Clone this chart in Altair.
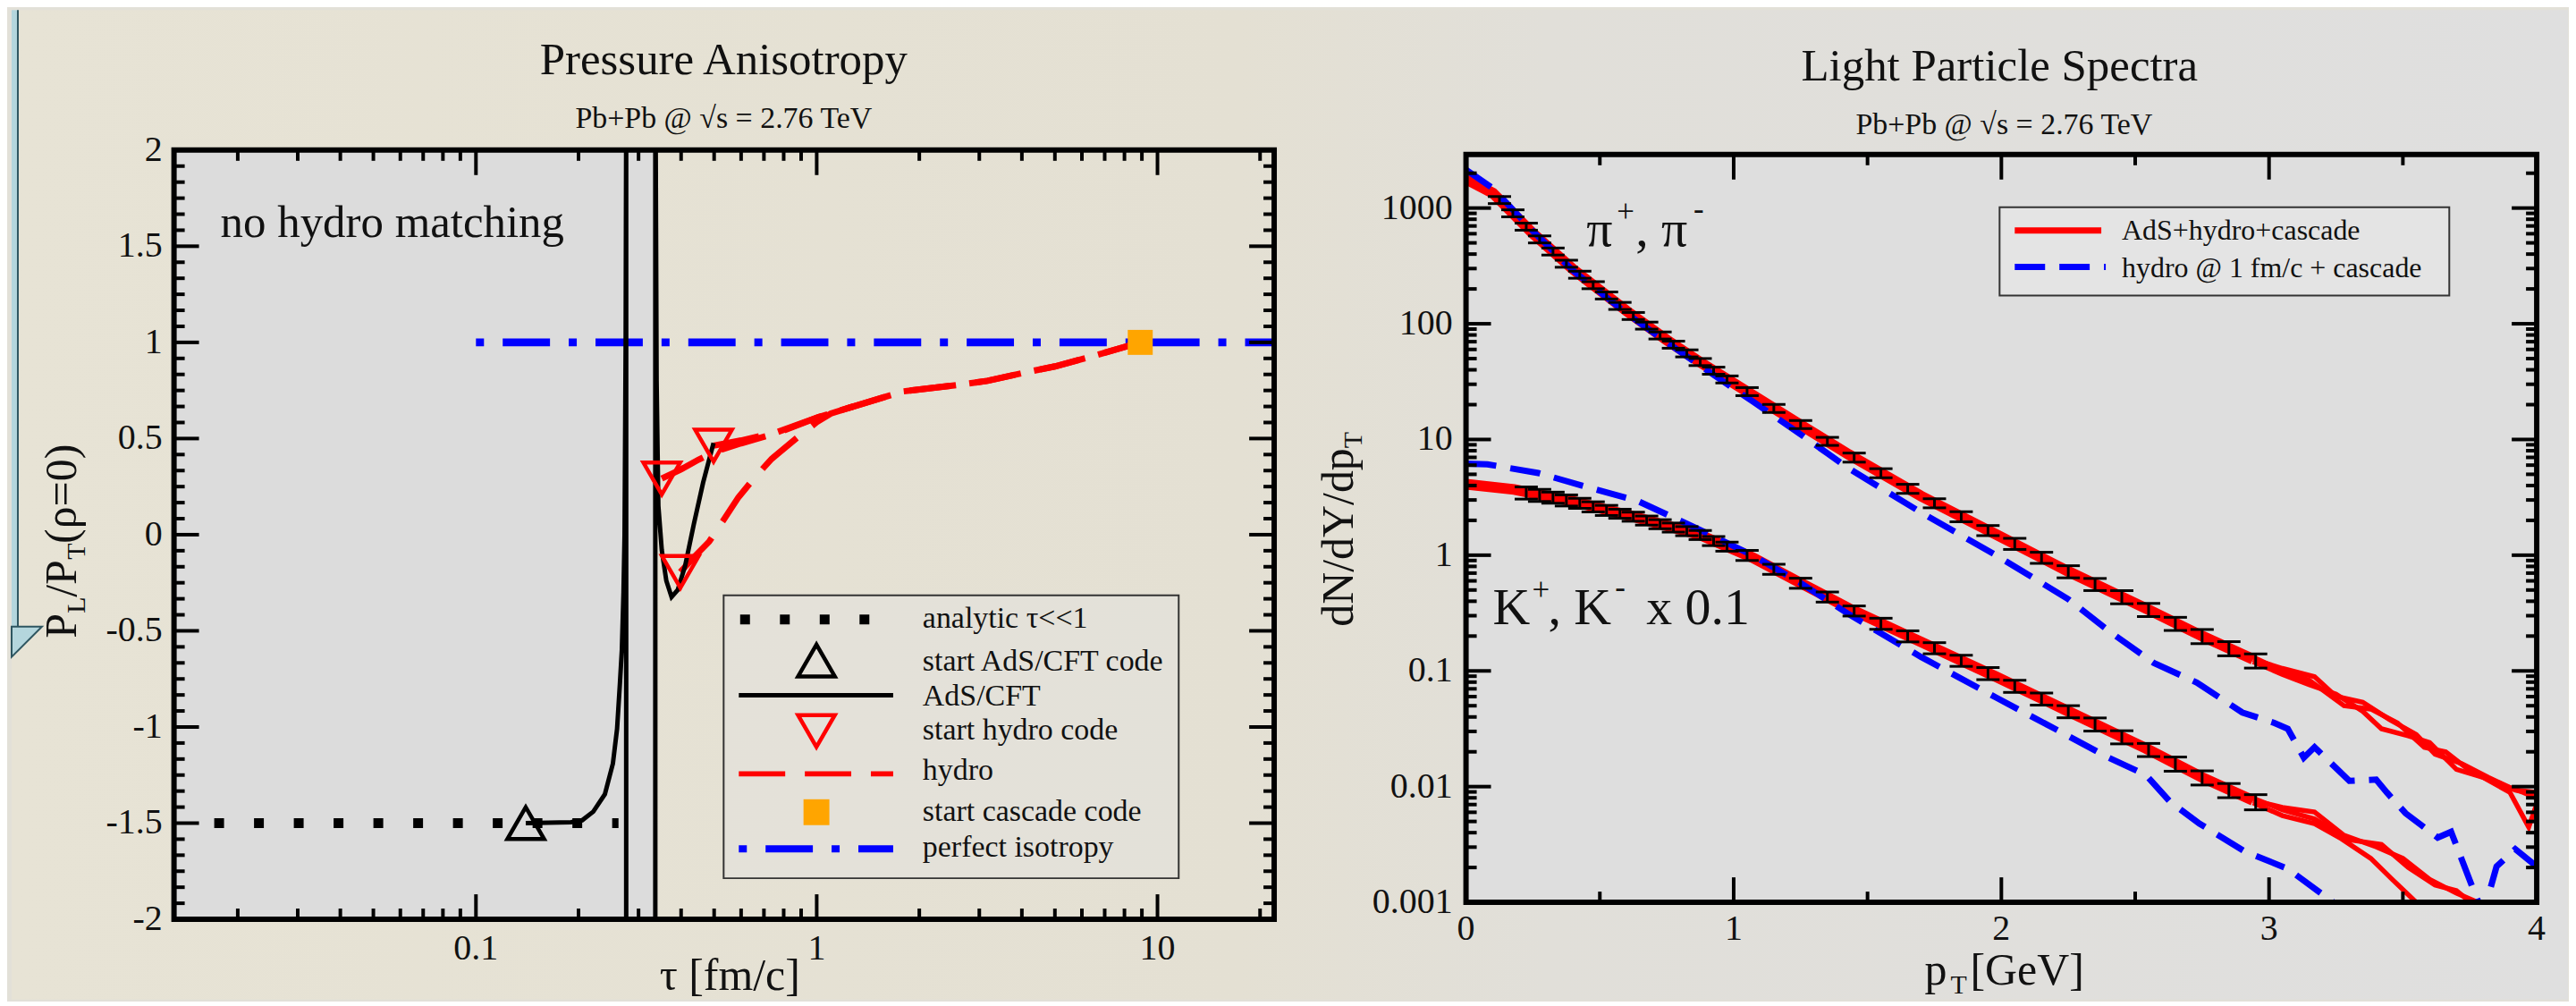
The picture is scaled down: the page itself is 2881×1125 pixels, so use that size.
import altair as alt
import pandas as pd

FONT = "Liberation Serif"
INK = "#111111"

# ================= Left panel: Pressure Anisotropy =================
analytic_tau = [0.01706, 0.262]
analytic_val = [-1.5, -1.5]
isotropy_tau = [0.1, 22.0]
isotropy_val = [1.0, 1.0]
ads_tau = [0.14, 0.19, 0.205, 0.221, 0.239, 0.2523, 0.2595, 0.2644, 0.268, 0.271, 0.273, 0.275,
           0.276, 0.276, 0.336, 0.336, 0.337, 0.339, 0.343, 0.351, 0.362, 0.375, 0.391, 0.411,
           0.436, 0.464, 0.498]
ads_val = [-1.5, -1.495, -1.485, -1.44, -1.35, -1.19, -1.01, -0.78, -0.6, -0.3, 0.0, 1.0,
           2.2, -2.2, -2.2, 2.2, 2.0, 0.8, 0.15, -0.08, -0.24, -0.324, -0.287, -0.162,
           0.055, 0.27, 0.477]
hydro_a_tau = [0.351, 0.40, 0.45, 0.50, 0.60, 0.77, 1.01, 1.3, 1.79, 2.5, 3.17, 4.0, 5.0, 6.5, 8.9]
hydro_a_val = [0.292, 0.34, 0.39, 0.43, 0.475, 0.53, 0.611, 0.67, 0.745, 0.775, 0.80, 0.84, 0.875, 0.93, 1.0]
hydro_b_tau = [0.498, 0.60, 0.77, 1.01, 1.3, 1.79, 2.5, 3.17, 4.0, 5.0, 6.5, 8.9]
hydro_b_val = [0.463, 0.49, 0.535, 0.611, 0.67, 0.745, 0.775, 0.80, 0.84, 0.875, 0.93, 1.0]
hydro_c_tau = [0.398, 0.44, 0.483, 0.53, 0.589, 0.66, 0.737, 0.884, 1.0, 1.1, 1.3]
hydro_c_val = [-0.194, -0.11, -0.037, 0.07, 0.194, 0.30, 0.394, 0.51, 0.585, 0.63, 0.67]
ads_start_tau = [0.14]
ads_start_val = [-1.5]
hydro_start_tau = [0.351, 0.398, 0.498]
hydro_start_val = [0.292, -0.194, 0.463]
cascade_tau = [8.9]
cascade_val = [1.0]
shade_tau = [0.013, 0.336]

left_legend = ["analytic \u03c4<<1", "start AdS/CFT code", "AdS/CFT", "start hydro code",
               "hydro", "start cascade code", "perfect isotropy"]

# ================= Right panel: Light Particle Spectra =================
pi_red_pt = [0.0, 0.1, 0.25, 0.4, 0.6, 0.75, 0.873, 1.07, 1.24, 1.43, 1.7, 1.98, 2.25, 2.54, 2.75, 2.94]
pi_red_val = [1778, 1349, 603, 295, 129, 72.4, 46.8, 24.3, 13.8, 7.41, 3.24, 1.51, 0.724, 0.347, 0.2, 0.126]
pi_tail_a_pt = [2.94, 3.05, 3.17, 3.25, 3.35, 3.45, 3.55, 3.62, 3.72, 3.82, 3.92, 4.0]
pi_tail_a_val = [0.126, 0.105, 0.0891, 0.0603, 0.0537, 0.038, 0.0282, 0.0191, 0.0158, 0.012, 0.00933, 0.00891]
pi_tail_b_pt = [2.94, 3.05, 3.15, 3.25, 3.35, 3.42, 3.52, 3.6, 3.7, 3.8, 3.9, 3.97, 4.0]
pi_tail_b_val = [0.12, 0.0933, 0.0759, 0.0631, 0.0447, 0.0316, 0.0275, 0.024, 0.0141, 0.012, 0.00891, 0.00447, 0.00708]
pi_tail_c_pt = [2.94, 3.05, 3.15, 3.28, 3.38, 3.48, 3.58, 3.66, 3.76, 3.86, 3.95, 4.0]
pi_tail_c_val = [0.132, 0.1, 0.0832, 0.0501, 0.0468, 0.0355, 0.0219, 0.02, 0.0132, 0.0105, 0.00891, 0.00794]

k_red_pt = [0.0, 0.18, 0.41, 0.63, 0.873, 1.07, 1.25, 1.43, 1.7, 1.98, 2.25, 2.54, 2.75, 2.94]
k_red_val = [4.1, 3.7, 2.88, 2.14, 1.50, 0.955, 0.575, 0.347, 0.178, 0.0891, 0.0447, 0.0214, 0.012, 0.00759]
k_tail_a_pt = [2.94, 3.05, 3.17, 3.28, 3.4, 3.5, 3.6, 3.7, 3.8, 3.9]
k_tail_a_val = [0.00759, 0.00661, 0.00603, 0.0038, 0.00302, 0.0024, 0.00158, 0.0012, 0.000955, 0.000794]
k_tail_b_pt = [2.94, 3.05, 3.17, 3.27, 3.38, 3.46, 3.54, 3.6]
k_tail_b_val = [0.00724, 0.00562, 0.00479, 0.00355, 0.0024, 0.00158, 0.00105, 0.000794]
k_tail_c_pt = [2.94, 3.05, 3.17, 3.3, 3.42, 3.52, 3.62, 3.7, 3.78, 3.86]
k_tail_c_val = [0.00794, 0.00631, 0.00525, 0.00347, 0.00316, 0.002, 0.00141, 0.00126, 0.000891, 0.000708]

pi_blue_pt = [0.0, 0.1, 0.25, 0.4, 0.6, 0.75, 0.873, 1.07, 1.24, 1.43, 1.7, 1.98, 2.25, 2.41, 2.57,
              2.73, 2.9, 3.02, 3.07, 3.13, 3.17, 3.3, 3.4, 3.44, 3.51, 3.63, 3.68, 3.76, 3.8, 3.85, 3.92, 4.0]
pi_blue_val = [2140, 1480, 631, 288, 123, 69.2, 43.7, 21.4, 11.5, 5.62, 2.34, 1.0, 0.417, 0.214, 0.117,
               0.0794, 0.0437, 0.0355, 0.0316, 0.0178, 0.0219, 0.0112, 0.0115, 0.00891, 0.00589, 0.00363,
               0.00407, 0.00135, 0.000794, 0.00204, 0.00288, 0.00204]
k_blue_pt = [0.0, 0.08, 0.27, 0.45, 0.64, 0.873, 1.07, 1.25, 1.43, 1.7, 1.98, 2.2, 2.4, 2.54, 2.63,
             2.74, 2.91, 3.07, 3.24, 3.3]
k_blue_val = [6.17, 6.1, 5.13, 3.89, 2.95, 1.66, 1.0, 0.575, 0.309, 0.132, 0.0589, 0.0316, 0.0178,
              0.0126, 0.00741, 0.00479, 0.00275, 0.00195, 0.001, 0.000794]

pi_data_pt = [0.125, 0.175, 0.225, 0.275, 0.325, 0.375, 0.425, 0.475, 0.525, 0.575, 0.625, 0.675,
              0.725, 0.775, 0.825, 0.875, 0.925, 0.975, 1.05, 1.15, 1.25, 1.35, 1.45, 1.55, 1.65,
              1.75, 1.85, 1.95, 2.05, 2.15, 2.25, 2.35, 2.45, 2.55, 2.65, 2.75, 2.85, 2.95]
pi_data_val = [1175, 902, 692, 537, 422, 331, 266, 216, 176, 143, 117, 96.6, 79.4, 66.1, 55.6, 46.8,
               39.4, 33.1, 26.0, 18.6, 13.5, 9.66, 7.0, 5.13, 3.76, 2.82, 2.16, 1.64, 1.26, 0.955,
               0.724, 0.562, 0.437, 0.339, 0.257, 0.2, 0.157, 0.123]
pi_data_err = [0.07, 0.07, 0.07, 0.07, 0.07, 0.07, 0.07, 0.07, 0.07, 0.07, 0.07, 0.07, 0.07, 0.07,
               0.07, 0.07, 0.07, 0.07, 0.08, 0.08, 0.08, 0.08, 0.09, 0.09, 0.09, 0.09, 0.10, 0.10,
               0.11, 0.11, 0.12, 0.12, 0.13, 0.13, 0.13, 0.14, 0.14, 0.14]
k_data_pt = [0.225, 0.275, 0.325, 0.375, 0.425, 0.475, 0.525, 0.575, 0.625, 0.675, 0.725, 0.775,
             0.825, 0.875, 0.925, 0.975, 1.05, 1.15, 1.25, 1.35, 1.45, 1.55, 1.65, 1.75, 1.85,
             1.95, 2.05, 2.15, 2.25, 2.35, 2.45, 2.55, 2.65, 2.75, 2.85, 2.95]
k_data_val = [3.47, 3.31, 3.16, 2.99, 2.82, 2.63, 2.45, 2.29, 2.16, 2.0, 1.86, 1.74, 1.62, 1.50,
              1.33, 1.19, 1.0, 0.759, 0.575, 0.437, 0.331, 0.257, 0.2, 0.158, 0.123, 0.0955,
              0.0741, 0.0575, 0.0447, 0.0347, 0.0269, 0.0209, 0.0158, 0.012, 0.00933, 0.00741]
k_data_err = [0.12, 0.12, 0.11, 0.11, 0.10, 0.10, 0.10, 0.09, 0.09, 0.09, 0.09, 0.09, 0.09, 0.09,
              0.09, 0.09, 0.10, 0.10, 0.10, 0.10, 0.10, 0.11, 0.11, 0.11, 0.11, 0.12, 0.12, 0.12,
              0.12, 0.13, 0.13, 0.13, 0.14, 0.14, 0.14, 0.15]

right_legend = ["AdS+hydro+cascade", "hydro @ 1 fm/c + cascade"]

# tick positions and tick labels
lx_major = [0.1, 1, 10]
lx_labels = ["0.1", "1", "10"]
lx_minor = [m * 10.0 ** e for e in (-2, -1, 0) for m in range(2, 10)] + [20]
ly_major = [-2, -1.5, -1, -0.5, 0, 0.5, 1, 1.5, 2]
ly_labels = ["-2", "-1.5", "-1", "-0.5", "0", "0.5", "1", "1.5", "2"]
ly_minor = [k / 12 for k in range(-24, 25) if k % 6 != 0]
rx_major = [0, 1, 2, 3, 4]
rx_labels = ["0", "1", "2", "3", "4"]
rx_minor = [0.5, 1.5, 2.5, 3.5]
ry_major = [0.001, 0.01, 0.1, 1, 10, 100, 1000]
ry_labels = ["0.001", "0.01", "0.1", "1", "10", "100", "1000"]
ry_minor = [m * 10.0 ** e for e in range(-3, 4) for m in range(2, 10) if m * 10.0 ** e < 2900]

# ================= helpers =================
ONE = pd.DataFrame({"k": [0]})
WL, HL = 1233, 862
WR, HR, TOPR = 1200, 843, 5

xsL = alt.Scale(type="log", domain=[0.013, 22], nice=False)
ysL = alt.Scale(domain=[-2, 2], nice=False, zero=False)
xsR = alt.Scale(domain=[0, 4], nice=False, zero=False)
ysR = alt.Scale(type="log", domain=[0.001, 2900], nice=False, range=[HR, TOPR])


def line(xv, yv, xs, ys, **mk):
    df = pd.DataFrame({"x": xv, "y": yv, "i": list(range(len(xv)))})
    return alt.Chart(df).mark_line(clip=True, **mk).encode(
        x=alt.X("x:Q", scale=xs, axis=None), y=alt.Y("y:Q", scale=ys, axis=None), order="i:Q")


def points(xv, yv, xs, ys, mark="point", **mk):
    df = pd.DataFrame({"x": xv, "y": yv})
    ch = alt.Chart(df)
    m = ch.mark_square(**mk) if mark == "square" else ch.mark_point(**mk)
    return m.encode(x=alt.X("x:Q", scale=xs, axis=None), y=alt.Y("y:Q", scale=ys, axis=None))


def prect(x1, x2, y1, y2, **mk):
    return alt.Chart(ONE).mark_rect(**mk).encode(
        x=alt.value(x1), x2=alt.value(x2), y=alt.value(y1), y2=alt.value(y2))


def hrule(x1, x2, y, **mk):
    return alt.Chart(ONE).mark_rule(**mk).encode(x=alt.value(x1), x2=alt.value(x2), y=alt.value(y))


def vrule(x, y1, y2, **mk):
    return alt.Chart(ONE).mark_rule(**mk).encode(x=alt.value(x), y=alt.value(y1), y2=alt.value(y2))


def ptext(text, x, y, size, **mk):
    mk.setdefault("align", "left")
    mk.setdefault("baseline", "alphabetic")
    mk.setdefault("color", INK)
    return alt.Chart(ONE).mark_text(text=text, font=FONT, fontSize=size, **mk).encode(
        x=alt.value(x), y=alt.value(y))


def dtext(text, xd, yd, xs, ys, size, **mk):
    mk.setdefault("align", "left")
    mk.setdefault("baseline", "alphabetic")
    mk.setdefault("color", INK)
    return alt.Chart(ONE).mark_text(text=text, font=FONT, fontSize=size, **mk).encode(
        x=alt.XDatum(xd, scale=xs, axis=None), y=alt.YDatum(yd, scale=ys, axis=None))


def ppoint(x, y, **mk):
    return alt.Chart(ONE).mark_point(**mk).encode(x=alt.value(x), y=alt.value(y))


def frame_and_ticks(xs, ys, W, H, top, xmaj, xmin, ymaj, ymin, xlab, ylab, xpad, ypad):
    out = [prect(0, W, top, H, filled=False, stroke="black", strokeWidth=6)]
    for vals, ln in ((xmaj, 28), (xmin, 12)):
        df = pd.DataFrame({"v": vals})
        base = alt.Chart(df).mark_rule(color="black", strokeWidth=4)
        out.append(base.encode(x=alt.X("v:Q", scale=xs, axis=None), y=alt.value(H), y2=alt.value(H - ln)))
        out.append(base.encode(x=alt.X("v:Q", scale=xs, axis=None), y=alt.value(top), y2=alt.value(top + ln)))
    for vals, ln in ((ymaj, 28), (ymin, 12)):
        df = pd.DataFrame({"v": vals})
        base = alt.Chart(df).mark_rule(color="black", strokeWidth=4)
        out.append(base.encode(y=alt.Y("v:Q", scale=ys, axis=None), x=alt.value(0), x2=alt.value(ln)))
        out.append(base.encode(y=alt.Y("v:Q", scale=ys, axis=None), x=alt.value(W), x2=alt.value(W - ln)))
    dfx = pd.DataFrame({"v": xmaj, "t": xlab})
    out.append(alt.Chart(dfx).mark_text(font=FONT, fontSize=40, color=INK, align="center",
                                        baseline="middle").encode(
        x=alt.X("v:Q", scale=xs, axis=None), y=alt.value(H + xpad), text="t:N"))
    dfy = pd.DataFrame({"v": ymaj, "t": ylab})
    out.append(alt.Chart(dfy).mark_text(font=FONT, fontSize=40, color=INK, align="right",
                                        baseline="middle").encode(
        y=alt.Y("v:Q", scale=ys, axis=None), x=alt.value(-ypad), text="t:N"))
    return out


bg = alt.LinearGradient(gradient="linear", x1=0, x2=1, y1=0, y2=0, stops=[
    alt.GradientStop(color="#e7e3d5", offset=0),
    alt.GradientStop(color="#e4e0d3", offset=0.48),
    alt.GradientStop(color="#e1dfd9", offset=0.6),
    alt.GradientStop(color="#dfdfdf", offset=1)])

# ================= left layers =================
Lr = []
Lr.append(prect(-182, 2683, -157, 952, fill=bg))
Lr.append(prect(-182, -175, -157, 535, fill="#b4d6dd"))
Lr.append(vrule(-175, -157, 535, color="#2e5560", strokeWidth=2))
Lr.append(ppoint(-165, 551, shape="M -1 -1 L 1 -1 L -1 1 Z", size=1156, filled=True,
                 fill="#b4d6dd", stroke="#2e5560", strokeWidth=2, opacity=1))
Lr.append(alt.Chart(ONE).mark_rect(color="#dcdcdc").encode(
    x=alt.XDatum(shade_tau[0], scale=xsL, axis=None), x2=alt.X2Datum(shade_tau[1]),
    y=alt.value(0), y2=alt.value(HL)))
Lr.append(line(analytic_tau, analytic_val, xsL, ysL,
               color="black", strokeWidth=11, strokeDash=[11, 33.6]))
Lr.append(line(isotropy_tau, isotropy_val, xsL, ysL, color="#0000ff", strokeWidth=9,
               strokeDash=[9, 21, 53, 21]))
for tv, vv in ((hydro_a_tau, hydro_a_val), (hydro_b_tau, hydro_b_val), (hydro_c_tau, hydro_c_val)):
    Lr.append(line(tv, vv, xsL, ysL, color="#ff0000", strokeWidth=7, strokeDash=[52, 22]))
Lr.append(line(ads_tau, ads_val, xsL, ysL, color="black", strokeWidth=5))
Lr.append(points(ads_start_tau, ads_start_val, xsL, ysL, shape="triangle-up", size=1700,
                 filled=False, color="black", strokeWidth=4.5, opacity=1))
Lr.append(points(hydro_start_tau, hydro_start_val, xsL, ysL, shape="triangle-down", size=1700,
                 filled=False, color="#ff0000", strokeWidth=4.5, opacity=1))
Lr.append(points(cascade_tau, cascade_val, xsL, ysL, mark="square", size=784, color="#ffa500", opacity=1))
Lr += frame_and_ticks(xsL, ysL, WL, HL, 0, lx_major, lx_minor, ly_major, ly_minor,
                      lx_labels, ly_labels, 33, 13)

# left legend
Lr.append(prect(616, 1126, 499, 816, fill="#e2e2e0", fillOpacity=0.45, stroke="#333333", strokeWidth=2))
Lr.append(hrule(634.5, 780, 526, color="black", strokeWidth=11, strokeDash=[11, 33.6]))
Lr.append(ppoint(720, 572, shape="triangle-up", size=1700, filled=False, color="black", strokeWidth=4.5, opacity=1))
Lr.append(hrule(633, 806, 611, color="black", strokeWidth=5))
Lr.append(ppoint(720, 651, shape="triangle-down", size=1700, filled=False, color="#ff0000", strokeWidth=4.5, opacity=1))
Lr.append(hrule(633, 806, 699, color="#ff0000", strokeWidth=6, strokeDash=[52, 22]))
Lr.append(alt.Chart(ONE).mark_square(size=841, color="#ffa500", opacity=1).encode(x=alt.value(720), y=alt.value(742)))
Lr.append(hrule(633, 806, 783, color="#0000ff", strokeWidth=8, strokeDash=[9, 21, 53, 21]))
for txt, yb in zip(left_legend, [535, 583, 622, 661, 706, 752, 792]):
    Lr.append(ptext(txt, 839, yb, 34))

# left texts
Lr.append(dtext("no hydro matching", 0.0178, 1.55, xsL, ysL, 51))
Lr.append(ptext("Pressure Anisotropy", 616, -85, 51, align="center"))
Lr.append(ptext("Pb+Pb @ \u221as = 2.76 TeV", 616, -25, 34, align="center"))
Lr.append(ptext("\u03c4 [fm/c]", 623, 941, 50, align="center"))
Lr.append(ptext("P", -110, 547, 50, angle=270))
Lr.append(ptext("L", -100, 519, 30, angle=270))
Lr.append(ptext("/P", -110, 501, 50, angle=270))
Lr.append(ptext("T", -100, 459, 30, angle=270))
Lr.append(ptext("(\u03c1=0)", -110, 441, 50, angle=270))

left = alt.layer(*Lr).properties(width=WL, height=HL)

# ================= right layers =================
Rr = []
Rr.append(prect(0, WR, TOPR, HR, fill="#dedede"))
Rr.append(line(pi_red_pt, pi_red_val, xsR, ysR, color="#ff0000", strokeWidth=12))
Rr.append(line(k_red_pt, k_red_val, xsR, ysR, color="#ff0000", strokeWidth=12))
for tv, vv in ((pi_tail_a_pt, pi_tail_a_val), (pi_tail_b_pt, pi_tail_b_val), (pi_tail_c_pt, pi_tail_c_val),
               (k_tail_a_pt, k_tail_a_val), (k_tail_b_pt, k_tail_b_val), (k_tail_c_pt, k_tail_c_val)):
    Rr.append(line(tv, vv, xsR, ysR, color="#ff0000", strokeWidth=5.5))
Rr.append(line(pi_blue_pt, pi_blue_val, xsR, ysR, color="#0000ff", strokeWidth=7, strokeDash=[34, 16]))
Rr.append(line(k_blue_pt, k_blue_val, xsR, ysR, color="#0000ff", strokeWidth=7, strokeDash=[34, 16]))

for pts, vals, errs in ((pi_data_pt, pi_data_val, pi_data_err), (k_data_pt, k_data_val, k_data_err)):
    df = pd.DataFrame({"x": pts, "v": vals, "e": errs})
    df["lo"] = df["v"] * (1 - df["e"])
    df["hi"] = df["v"] * (1 + df["e"])
    base = alt.Chart(df)
    Rr.append(base.mark_rule(color="black", strokeWidth=3).encode(
        x=alt.X("x:Q", scale=xsR, axis=None), y=alt.Y("lo:Q", scale=ysR, axis=None), y2="hi:Q"))
    for col in ("lo", "hi"):
        Rr.append(base.mark_tick(orient="horizontal", size=26, thickness=3, color="black", opacity=1).encode(
            x=alt.X("x:Q", scale=xsR, axis=None), y=alt.Y(col + ":Q", scale=ysR, axis=None)))

Rr += frame_and_ticks(xsR, ysR, WR, HR, TOPR, rx_major, rx_minor, ry_major, ry_minor,
                      rx_labels, ry_labels, 30, 15)

# right legend
Rr.append(prect(598, 1102, 64, 163, fill="#e4e4e4", stroke="#333333", strokeWidth=2))
Rr.append(hrule(615, 712, 90, color="#ff0000", strokeWidth=7))
Rr.append(hrule(615, 717, 131, color="#0000ff", strokeWidth=7, strokeDash=[34, 16]))
Rr.append(ptext(right_legend[0], 735, 100, 32))
Rr.append(ptext(right_legend[1], 735, 142, 32))

# annotations
Rr.append(dtext("\u03c0", 0.45, 474, xsR, ysR, 58))
Rr.append(dtext("+", 0.45, 474, xsR, ysR, 35, dx=34, dy=-27))
Rr.append(dtext(", \u03c0", 0.45, 474, xsR, ysR, 58, dx=55))
Rr.append(dtext("-", 0.45, 474, xsR, ysR, 35, dx=120, dy=-30))
Rr.append(dtext("K", 0.1, 0.255, xsR, ysR, 58))
Rr.append(dtext("+", 0.1, 0.255, xsR, ysR, 35, dx=44, dy=-27))
Rr.append(dtext(", K", 0.1, 0.255, xsR, ysR, 58, dx=62))
Rr.append(dtext("-", 0.1, 0.255, xsR, ysR, 35, dx=137, dy=-30))
Rr.append(dtext("x 0.1", 0.1, 0.255, xsR, ysR, 58, dx=172))

# right texts
Rr.append(ptext("Light Particle Spectra", 598, -77.5, 51, align="center"))
Rr.append(ptext("Pb+Pb @ \u221as = 2.76 TeV", 603, -18, 34, align="center"))
Rr.append(ptext("p", 514, 935, 50))
Rr.append(ptext("T", 543, 945, 30))
Rr.append(ptext("[GeV]", 565, 935, 50))
Rr.append(ptext("dN/dY/dp", -127, 534, 50, angle=270))
Rr.append(ptext("T", -117, 334, 30, angle=270))

right = alt.layer(*Rr).properties(width=WR, height=HR)

chart = alt.hconcat(left, right, spacing=215, bounds="flush").properties(padding=0).configure(
    background="#e2e0d8").configure_view(stroke="transparent")

chart.save("out.html", embed_options={"renderer": "svg", "actions": False})
